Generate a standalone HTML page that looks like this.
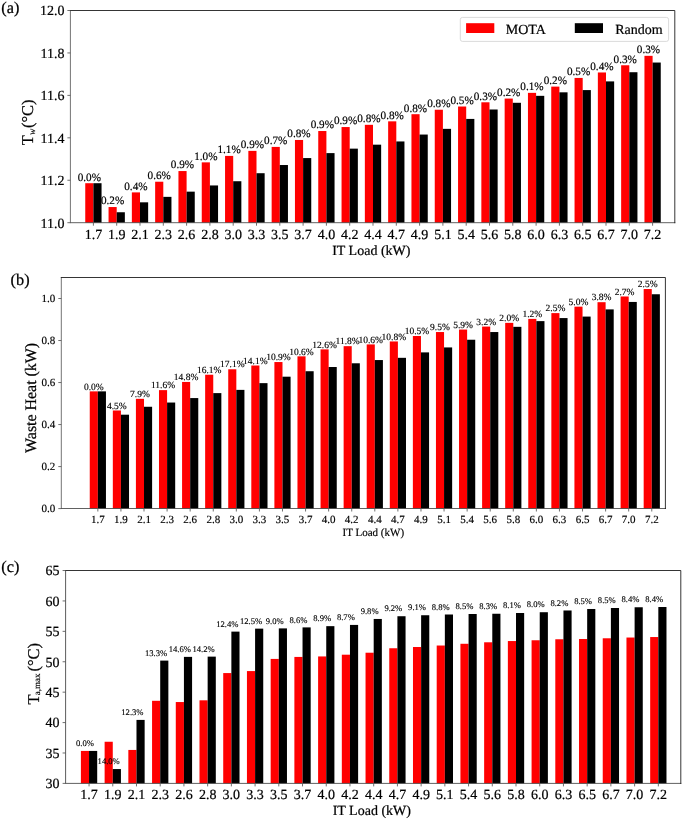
<!DOCTYPE html>
<html><head><meta charset="utf-8"><title>Figure</title>
<style>
html,body{margin:0;padding:0;background:#fff;}
svg{display:block;font-family:'Liberation Serif', serif;fill:#000;text-rendering:geometricPrecision;}
text{stroke:#000;stroke-width:0.015em;}
</style></head><body>
<svg width="685" height="820" viewBox="0 0 685 820">
<rect x="0" y="0" width="685" height="820" fill="#fff"/>
<rect x="85.25" y="183.21" width="8.15" height="39.49" fill="#ff0000"/>
<rect x="93.40" y="183.21" width="8.15" height="39.49" fill="#000"/>
<rect x="108.55" y="207.04" width="8.15" height="15.66" fill="#ff0000"/>
<rect x="116.70" y="212.25" width="8.15" height="10.45" fill="#000"/>
<rect x="131.85" y="192.39" width="8.15" height="30.31" fill="#ff0000"/>
<rect x="140.00" y="202.32" width="8.15" height="20.38" fill="#000"/>
<rect x="155.15" y="181.72" width="8.15" height="40.98" fill="#ff0000"/>
<rect x="163.30" y="196.86" width="8.15" height="25.84" fill="#000"/>
<rect x="178.45" y="171.05" width="8.15" height="51.65" fill="#ff0000"/>
<rect x="186.60" y="191.65" width="8.15" height="31.05" fill="#000"/>
<rect x="201.75" y="162.36" width="8.15" height="60.34" fill="#ff0000"/>
<rect x="209.90" y="185.45" width="8.15" height="37.25" fill="#000"/>
<rect x="225.05" y="155.91" width="8.15" height="66.79" fill="#ff0000"/>
<rect x="233.20" y="181.23" width="8.15" height="41.47" fill="#000"/>
<rect x="248.35" y="150.88" width="8.15" height="71.82" fill="#ff0000"/>
<rect x="256.50" y="173.21" width="8.15" height="49.49" fill="#000"/>
<rect x="271.65" y="146.91" width="8.15" height="75.79" fill="#ff0000"/>
<rect x="279.80" y="165.02" width="8.15" height="57.68" fill="#000"/>
<rect x="294.95" y="139.96" width="8.15" height="82.74" fill="#ff0000"/>
<rect x="303.10" y="158.07" width="8.15" height="64.63" fill="#000"/>
<rect x="318.25" y="131.02" width="8.15" height="91.68" fill="#ff0000"/>
<rect x="326.40" y="153.11" width="8.15" height="69.59" fill="#000"/>
<rect x="341.55" y="127.05" width="8.15" height="95.65" fill="#ff0000"/>
<rect x="349.70" y="148.64" width="8.15" height="74.06" fill="#000"/>
<rect x="364.85" y="124.82" width="8.15" height="97.88" fill="#ff0000"/>
<rect x="373.00" y="144.67" width="8.15" height="78.03" fill="#000"/>
<rect x="388.15" y="121.34" width="8.15" height="101.36" fill="#ff0000"/>
<rect x="396.30" y="141.45" width="8.15" height="81.25" fill="#000"/>
<rect x="411.45" y="114.20" width="8.15" height="108.50" fill="#ff0000"/>
<rect x="419.60" y="134.55" width="8.15" height="88.15" fill="#000"/>
<rect x="434.75" y="109.74" width="8.15" height="112.96" fill="#ff0000"/>
<rect x="442.90" y="128.85" width="8.15" height="93.85" fill="#000"/>
<rect x="458.05" y="106.51" width="8.15" height="116.19" fill="#ff0000"/>
<rect x="466.20" y="118.92" width="8.15" height="103.78" fill="#000"/>
<rect x="481.35" y="102.29" width="8.15" height="120.41" fill="#ff0000"/>
<rect x="489.50" y="109.49" width="8.15" height="113.21" fill="#000"/>
<rect x="504.65" y="98.57" width="8.15" height="124.13" fill="#ff0000"/>
<rect x="512.80" y="102.79" width="8.15" height="119.91" fill="#000"/>
<rect x="527.95" y="92.86" width="8.15" height="129.84" fill="#ff0000"/>
<rect x="536.10" y="95.84" width="8.15" height="126.86" fill="#000"/>
<rect x="551.25" y="86.61" width="8.15" height="136.09" fill="#ff0000"/>
<rect x="559.40" y="92.32" width="8.15" height="130.38" fill="#000"/>
<rect x="574.55" y="77.93" width="8.15" height="144.77" fill="#ff0000"/>
<rect x="582.70" y="90.09" width="8.15" height="132.61" fill="#000"/>
<rect x="597.85" y="72.47" width="8.15" height="150.23" fill="#ff0000"/>
<rect x="606.00" y="81.40" width="8.15" height="141.30" fill="#000"/>
<rect x="621.15" y="65.27" width="8.15" height="157.43" fill="#ff0000"/>
<rect x="629.30" y="72.22" width="8.15" height="150.48" fill="#000"/>
<rect x="644.45" y="55.84" width="8.15" height="166.86" fill="#ff0000"/>
<rect x="652.60" y="62.54" width="8.15" height="160.16" fill="#000"/>
<text x="89.33" y="180.61" font-size="11.2" text-anchor="middle">0.0%</text>
<text x="112.62" y="204.44" font-size="11.2" text-anchor="middle">0.2%</text>
<text x="135.93" y="189.79" font-size="11.2" text-anchor="middle">0.4%</text>
<text x="159.23" y="179.12" font-size="11.2" text-anchor="middle">0.6%</text>
<text x="182.53" y="168.45" font-size="11.2" text-anchor="middle">0.9%</text>
<text x="205.83" y="159.76" font-size="11.2" text-anchor="middle">1.0%</text>
<text x="229.13" y="153.31" font-size="11.2" text-anchor="middle">1.1%</text>
<text x="252.43" y="148.28" font-size="11.2" text-anchor="middle">0.9%</text>
<text x="275.73" y="144.31" font-size="11.2" text-anchor="middle">0.7%</text>
<text x="299.03" y="137.36" font-size="11.2" text-anchor="middle">0.8%</text>
<text x="322.32" y="128.42" font-size="11.2" text-anchor="middle">0.9%</text>
<text x="345.63" y="124.45" font-size="11.2" text-anchor="middle">0.9%</text>
<text x="368.93" y="122.22" font-size="11.2" text-anchor="middle">0.8%</text>
<text x="392.23" y="118.74" font-size="11.2" text-anchor="middle">0.8%</text>
<text x="415.53" y="111.60" font-size="11.2" text-anchor="middle">0.8%</text>
<text x="438.82" y="107.14" font-size="11.2" text-anchor="middle">0.8%</text>
<text x="462.13" y="103.91" font-size="11.2" text-anchor="middle">0.5%</text>
<text x="485.43" y="99.69" font-size="11.2" text-anchor="middle">0.3%</text>
<text x="508.73" y="95.97" font-size="11.2" text-anchor="middle">0.2%</text>
<text x="532.02" y="90.26" font-size="11.2" text-anchor="middle">0.1%</text>
<text x="555.32" y="84.01" font-size="11.2" text-anchor="middle">0.2%</text>
<text x="578.62" y="75.33" font-size="11.2" text-anchor="middle">0.5%</text>
<text x="601.92" y="69.87" font-size="11.2" text-anchor="middle">0.4%</text>
<text x="625.22" y="62.67" font-size="11.2" text-anchor="middle">0.3%</text>
<text x="648.52" y="53.24" font-size="11.2" text-anchor="middle">0.3%</text>
<path d="M70.40 222.70V10.50" fill="none" stroke="#747474" stroke-width="1.0" stroke-linecap="butt"/>
<path d="M70.40 222.70H674.80" fill="none" stroke="#444" stroke-width="0.85" stroke-linecap="square"/>
<path d="M70.40 10.50H674.80V222.70" fill="none" stroke="#111" stroke-width="0.85" stroke-linecap="square"/>
<line x1="93.40" y1="222.70" x2="93.40" y2="225.70" stroke="#555" stroke-width="0.85"/>
<text x="93.40" y="238.50" font-size="14" text-anchor="middle">1.7</text>
<line x1="116.70" y1="222.70" x2="116.70" y2="225.70" stroke="#555" stroke-width="0.85"/>
<text x="116.70" y="238.50" font-size="14" text-anchor="middle">1.9</text>
<line x1="140.00" y1="222.70" x2="140.00" y2="225.70" stroke="#555" stroke-width="0.85"/>
<text x="140.00" y="238.50" font-size="14" text-anchor="middle">2.1</text>
<line x1="163.30" y1="222.70" x2="163.30" y2="225.70" stroke="#555" stroke-width="0.85"/>
<text x="163.30" y="238.50" font-size="14" text-anchor="middle">2.3</text>
<line x1="186.60" y1="222.70" x2="186.60" y2="225.70" stroke="#555" stroke-width="0.85"/>
<text x="186.60" y="238.50" font-size="14" text-anchor="middle">2.6</text>
<line x1="209.90" y1="222.70" x2="209.90" y2="225.70" stroke="#555" stroke-width="0.85"/>
<text x="209.90" y="238.50" font-size="14" text-anchor="middle">2.8</text>
<line x1="233.20" y1="222.70" x2="233.20" y2="225.70" stroke="#555" stroke-width="0.85"/>
<text x="233.20" y="238.50" font-size="14" text-anchor="middle">3.0</text>
<line x1="256.50" y1="222.70" x2="256.50" y2="225.70" stroke="#555" stroke-width="0.85"/>
<text x="256.50" y="238.50" font-size="14" text-anchor="middle">3.3</text>
<line x1="279.80" y1="222.70" x2="279.80" y2="225.70" stroke="#555" stroke-width="0.85"/>
<text x="279.80" y="238.50" font-size="14" text-anchor="middle">3.5</text>
<line x1="303.10" y1="222.70" x2="303.10" y2="225.70" stroke="#555" stroke-width="0.85"/>
<text x="303.10" y="238.50" font-size="14" text-anchor="middle">3.7</text>
<line x1="326.40" y1="222.70" x2="326.40" y2="225.70" stroke="#555" stroke-width="0.85"/>
<text x="326.40" y="238.50" font-size="14" text-anchor="middle">4.0</text>
<line x1="349.70" y1="222.70" x2="349.70" y2="225.70" stroke="#555" stroke-width="0.85"/>
<text x="349.70" y="238.50" font-size="14" text-anchor="middle">4.2</text>
<line x1="373.00" y1="222.70" x2="373.00" y2="225.70" stroke="#555" stroke-width="0.85"/>
<text x="373.00" y="238.50" font-size="14" text-anchor="middle">4.4</text>
<line x1="396.30" y1="222.70" x2="396.30" y2="225.70" stroke="#555" stroke-width="0.85"/>
<text x="396.30" y="238.50" font-size="14" text-anchor="middle">4.7</text>
<line x1="419.60" y1="222.70" x2="419.60" y2="225.70" stroke="#555" stroke-width="0.85"/>
<text x="419.60" y="238.50" font-size="14" text-anchor="middle">4.9</text>
<line x1="442.90" y1="222.70" x2="442.90" y2="225.70" stroke="#555" stroke-width="0.85"/>
<text x="442.90" y="238.50" font-size="14" text-anchor="middle">5.1</text>
<line x1="466.20" y1="222.70" x2="466.20" y2="225.70" stroke="#555" stroke-width="0.85"/>
<text x="466.20" y="238.50" font-size="14" text-anchor="middle">5.4</text>
<line x1="489.50" y1="222.70" x2="489.50" y2="225.70" stroke="#555" stroke-width="0.85"/>
<text x="489.50" y="238.50" font-size="14" text-anchor="middle">5.6</text>
<line x1="512.80" y1="222.70" x2="512.80" y2="225.70" stroke="#555" stroke-width="0.85"/>
<text x="512.80" y="238.50" font-size="14" text-anchor="middle">5.8</text>
<line x1="536.10" y1="222.70" x2="536.10" y2="225.70" stroke="#555" stroke-width="0.85"/>
<text x="536.10" y="238.50" font-size="14" text-anchor="middle">6.0</text>
<line x1="559.40" y1="222.70" x2="559.40" y2="225.70" stroke="#555" stroke-width="0.85"/>
<text x="559.40" y="238.50" font-size="14" text-anchor="middle">6.3</text>
<line x1="582.70" y1="222.70" x2="582.70" y2="225.70" stroke="#555" stroke-width="0.85"/>
<text x="582.70" y="238.50" font-size="14" text-anchor="middle">6.5</text>
<line x1="606.00" y1="222.70" x2="606.00" y2="225.70" stroke="#555" stroke-width="0.85"/>
<text x="606.00" y="238.50" font-size="14" text-anchor="middle">6.7</text>
<line x1="629.30" y1="222.70" x2="629.30" y2="225.70" stroke="#555" stroke-width="0.85"/>
<text x="629.30" y="238.50" font-size="14" text-anchor="middle">7.0</text>
<line x1="652.60" y1="222.70" x2="652.60" y2="225.70" stroke="#555" stroke-width="0.85"/>
<text x="652.60" y="238.50" font-size="14" text-anchor="middle">7.2</text>
<line x1="67.40" y1="222.70" x2="70.40" y2="222.70" stroke="#555" stroke-width="0.85"/>
<text x="64.60" y="227.60" font-size="14" text-anchor="end">11.0</text>
<line x1="67.40" y1="180.26" x2="70.40" y2="180.26" stroke="#555" stroke-width="0.85"/>
<text x="64.60" y="185.16" font-size="14" text-anchor="end">11.2</text>
<line x1="67.40" y1="137.82" x2="70.40" y2="137.82" stroke="#555" stroke-width="0.85"/>
<text x="64.60" y="142.72" font-size="14" text-anchor="end">11.4</text>
<line x1="67.40" y1="95.38" x2="70.40" y2="95.38" stroke="#555" stroke-width="0.85"/>
<text x="64.60" y="100.28" font-size="14" text-anchor="end">11.6</text>
<line x1="67.40" y1="52.94" x2="70.40" y2="52.94" stroke="#555" stroke-width="0.85"/>
<text x="64.60" y="57.84" font-size="14" text-anchor="end">11.8</text>
<line x1="67.40" y1="10.50" x2="70.40" y2="10.50" stroke="#555" stroke-width="0.85"/>
<text x="64.60" y="15.40" font-size="14" text-anchor="end">12.0</text>
<text x="371.30" y="254.60" font-size="14" text-anchor="middle">IT Load (kW)</text>
<g transform="translate(32.90,145.30) rotate(-90)" font-size="16.5"><text x="0" y="0">T</text><text x="10.3" y="2.1" font-size="9.5" font-style="italic">w</text><text x="45.9" y="0" text-anchor="end">(°C)</text></g>
<text x="1.30" y="13.00" font-size="16.3">(a)</text>
<rect x="89.75" y="391.37" width="8.10" height="117.13" fill="#ff0000"/>
<rect x="97.85" y="391.37" width="8.10" height="117.13" fill="#000"/>
<rect x="112.83" y="410.48" width="8.10" height="98.02" fill="#ff0000"/>
<rect x="120.93" y="414.70" width="8.10" height="93.80" fill="#000"/>
<rect x="135.91" y="398.82" width="8.10" height="109.68" fill="#ff0000"/>
<rect x="144.01" y="406.76" width="8.10" height="101.74" fill="#000"/>
<rect x="158.99" y="390.13" width="8.10" height="118.37" fill="#ff0000"/>
<rect x="167.09" y="402.54" width="8.10" height="105.96" fill="#000"/>
<rect x="182.07" y="381.94" width="8.10" height="126.56" fill="#ff0000"/>
<rect x="190.17" y="398.07" width="8.10" height="110.43" fill="#000"/>
<rect x="205.15" y="374.74" width="8.10" height="133.76" fill="#ff0000"/>
<rect x="213.25" y="393.11" width="8.10" height="115.39" fill="#000"/>
<rect x="228.23" y="369.28" width="8.10" height="139.22" fill="#ff0000"/>
<rect x="236.33" y="389.88" width="8.10" height="118.62" fill="#000"/>
<rect x="251.31" y="365.52" width="8.10" height="142.98" fill="#ff0000"/>
<rect x="259.41" y="383.14" width="8.10" height="125.36" fill="#000"/>
<rect x="274.39" y="362.04" width="8.10" height="146.46" fill="#ff0000"/>
<rect x="282.49" y="376.69" width="8.10" height="131.81" fill="#000"/>
<rect x="297.47" y="356.34" width="8.10" height="152.16" fill="#ff0000"/>
<rect x="305.57" y="371.23" width="8.10" height="137.27" fill="#000"/>
<rect x="320.55" y="349.39" width="8.10" height="159.11" fill="#ff0000"/>
<rect x="328.65" y="367.01" width="8.10" height="141.49" fill="#000"/>
<rect x="343.63" y="346.16" width="8.10" height="162.34" fill="#ff0000"/>
<rect x="351.73" y="363.28" width="8.10" height="145.22" fill="#000"/>
<rect x="366.71" y="344.42" width="8.10" height="164.08" fill="#ff0000"/>
<rect x="374.81" y="360.06" width="8.10" height="148.44" fill="#000"/>
<rect x="389.79" y="341.45" width="8.10" height="167.05" fill="#ff0000"/>
<rect x="397.89" y="357.82" width="8.10" height="150.68" fill="#000"/>
<rect x="412.87" y="336.01" width="8.10" height="172.49" fill="#ff0000"/>
<rect x="420.97" y="352.39" width="8.10" height="156.11" fill="#000"/>
<rect x="435.95" y="332.04" width="8.10" height="176.46" fill="#ff0000"/>
<rect x="444.05" y="347.43" width="8.10" height="161.07" fill="#000"/>
<rect x="459.03" y="329.56" width="8.10" height="178.94" fill="#ff0000"/>
<rect x="467.13" y="339.74" width="8.10" height="168.76" fill="#000"/>
<rect x="482.11" y="326.58" width="8.10" height="181.92" fill="#ff0000"/>
<rect x="490.21" y="332.04" width="8.10" height="176.46" fill="#000"/>
<rect x="505.19" y="322.86" width="8.10" height="185.64" fill="#ff0000"/>
<rect x="513.29" y="326.83" width="8.10" height="181.67" fill="#000"/>
<rect x="528.27" y="318.89" width="8.10" height="189.61" fill="#ff0000"/>
<rect x="536.37" y="321.12" width="8.10" height="187.38" fill="#000"/>
<rect x="551.35" y="313.11" width="8.10" height="195.39" fill="#ff0000"/>
<rect x="559.45" y="318.07" width="8.10" height="190.43" fill="#000"/>
<rect x="574.43" y="306.66" width="8.10" height="201.84" fill="#ff0000"/>
<rect x="582.53" y="316.58" width="8.10" height="191.92" fill="#000"/>
<rect x="597.51" y="302.19" width="8.10" height="206.31" fill="#ff0000"/>
<rect x="605.61" y="309.39" width="8.10" height="199.11" fill="#000"/>
<rect x="620.59" y="296.48" width="8.10" height="212.02" fill="#ff0000"/>
<rect x="628.69" y="301.94" width="8.10" height="206.56" fill="#000"/>
<rect x="643.67" y="289.04" width="8.10" height="219.46" fill="#ff0000"/>
<rect x="651.77" y="294.25" width="8.10" height="214.25" fill="#000"/>
<text x="93.80" y="389.57" font-size="9.5" text-anchor="middle">0.0%</text>
<text x="116.88" y="408.68" font-size="9.5" text-anchor="middle">4.5%</text>
<text x="139.96" y="397.02" font-size="9.5" text-anchor="middle">7.9%</text>
<text x="163.04" y="388.33" font-size="9.5" text-anchor="middle">11.6%</text>
<text x="186.12" y="380.14" font-size="9.5" text-anchor="middle">14.8%</text>
<text x="209.20" y="372.94" font-size="9.5" text-anchor="middle">16.1%</text>
<text x="232.28" y="367.48" font-size="9.5" text-anchor="middle">17.1%</text>
<text x="255.36" y="363.72" font-size="9.5" text-anchor="middle">14.1%</text>
<text x="278.44" y="360.24" font-size="9.5" text-anchor="middle">10.9%</text>
<text x="301.52" y="354.54" font-size="9.5" text-anchor="middle">10.6%</text>
<text x="324.60" y="347.59" font-size="9.5" text-anchor="middle">12.6%</text>
<text x="347.68" y="344.36" font-size="9.5" text-anchor="middle">11.8%</text>
<text x="370.76" y="342.62" font-size="9.5" text-anchor="middle">10.6%</text>
<text x="393.84" y="339.65" font-size="9.5" text-anchor="middle">10.8%</text>
<text x="416.92" y="334.21" font-size="9.5" text-anchor="middle">10.5%</text>
<text x="440.00" y="330.24" font-size="9.5" text-anchor="middle">9.5%</text>
<text x="463.08" y="327.76" font-size="9.5" text-anchor="middle">5.9%</text>
<text x="486.16" y="324.78" font-size="9.5" text-anchor="middle">3.2%</text>
<text x="509.24" y="321.06" font-size="9.5" text-anchor="middle">2.0%</text>
<text x="532.32" y="317.09" font-size="9.5" text-anchor="middle">1.2%</text>
<text x="555.40" y="311.31" font-size="9.5" text-anchor="middle">2.5%</text>
<text x="578.48" y="304.86" font-size="9.5" text-anchor="middle">5.0%</text>
<text x="601.56" y="300.39" font-size="9.5" text-anchor="middle">3.8%</text>
<text x="624.64" y="294.68" font-size="9.5" text-anchor="middle">2.7%</text>
<text x="647.72" y="287.24" font-size="9.5" text-anchor="middle">2.5%</text>
<path d="M61.30 508.50V277.50" fill="none" stroke="#747474" stroke-width="1.0" stroke-linecap="butt"/>
<path d="M61.30 508.50H665.40" fill="none" stroke="#444" stroke-width="0.85" stroke-linecap="square"/>
<path d="M61.30 277.50H665.40V508.50" fill="none" stroke="#111" stroke-width="0.85" stroke-linecap="square"/>
<line x1="97.85" y1="508.50" x2="97.85" y2="511.50" stroke="#555" stroke-width="0.85"/>
<text x="97.85" y="522.60" font-size="11" text-anchor="middle">1.7</text>
<line x1="120.93" y1="508.50" x2="120.93" y2="511.50" stroke="#555" stroke-width="0.85"/>
<text x="120.93" y="522.60" font-size="11" text-anchor="middle">1.9</text>
<line x1="144.01" y1="508.50" x2="144.01" y2="511.50" stroke="#555" stroke-width="0.85"/>
<text x="144.01" y="522.60" font-size="11" text-anchor="middle">2.1</text>
<line x1="167.09" y1="508.50" x2="167.09" y2="511.50" stroke="#555" stroke-width="0.85"/>
<text x="167.09" y="522.60" font-size="11" text-anchor="middle">2.3</text>
<line x1="190.17" y1="508.50" x2="190.17" y2="511.50" stroke="#555" stroke-width="0.85"/>
<text x="190.17" y="522.60" font-size="11" text-anchor="middle">2.6</text>
<line x1="213.25" y1="508.50" x2="213.25" y2="511.50" stroke="#555" stroke-width="0.85"/>
<text x="213.25" y="522.60" font-size="11" text-anchor="middle">2.8</text>
<line x1="236.33" y1="508.50" x2="236.33" y2="511.50" stroke="#555" stroke-width="0.85"/>
<text x="236.33" y="522.60" font-size="11" text-anchor="middle">3.0</text>
<line x1="259.41" y1="508.50" x2="259.41" y2="511.50" stroke="#555" stroke-width="0.85"/>
<text x="259.41" y="522.60" font-size="11" text-anchor="middle">3.3</text>
<line x1="282.49" y1="508.50" x2="282.49" y2="511.50" stroke="#555" stroke-width="0.85"/>
<text x="282.49" y="522.60" font-size="11" text-anchor="middle">3.5</text>
<line x1="305.57" y1="508.50" x2="305.57" y2="511.50" stroke="#555" stroke-width="0.85"/>
<text x="305.57" y="522.60" font-size="11" text-anchor="middle">3.7</text>
<line x1="328.65" y1="508.50" x2="328.65" y2="511.50" stroke="#555" stroke-width="0.85"/>
<text x="328.65" y="522.60" font-size="11" text-anchor="middle">4.0</text>
<line x1="351.73" y1="508.50" x2="351.73" y2="511.50" stroke="#555" stroke-width="0.85"/>
<text x="351.73" y="522.60" font-size="11" text-anchor="middle">4.2</text>
<line x1="374.81" y1="508.50" x2="374.81" y2="511.50" stroke="#555" stroke-width="0.85"/>
<text x="374.81" y="522.60" font-size="11" text-anchor="middle">4.4</text>
<line x1="397.89" y1="508.50" x2="397.89" y2="511.50" stroke="#555" stroke-width="0.85"/>
<text x="397.89" y="522.60" font-size="11" text-anchor="middle">4.7</text>
<line x1="420.97" y1="508.50" x2="420.97" y2="511.50" stroke="#555" stroke-width="0.85"/>
<text x="420.97" y="522.60" font-size="11" text-anchor="middle">4.9</text>
<line x1="444.05" y1="508.50" x2="444.05" y2="511.50" stroke="#555" stroke-width="0.85"/>
<text x="444.05" y="522.60" font-size="11" text-anchor="middle">5.1</text>
<line x1="467.13" y1="508.50" x2="467.13" y2="511.50" stroke="#555" stroke-width="0.85"/>
<text x="467.13" y="522.60" font-size="11" text-anchor="middle">5.4</text>
<line x1="490.21" y1="508.50" x2="490.21" y2="511.50" stroke="#555" stroke-width="0.85"/>
<text x="490.21" y="522.60" font-size="11" text-anchor="middle">5.6</text>
<line x1="513.29" y1="508.50" x2="513.29" y2="511.50" stroke="#555" stroke-width="0.85"/>
<text x="513.29" y="522.60" font-size="11" text-anchor="middle">5.8</text>
<line x1="536.37" y1="508.50" x2="536.37" y2="511.50" stroke="#555" stroke-width="0.85"/>
<text x="536.37" y="522.60" font-size="11" text-anchor="middle">6.0</text>
<line x1="559.45" y1="508.50" x2="559.45" y2="511.50" stroke="#555" stroke-width="0.85"/>
<text x="559.45" y="522.60" font-size="11" text-anchor="middle">6.3</text>
<line x1="582.53" y1="508.50" x2="582.53" y2="511.50" stroke="#555" stroke-width="0.85"/>
<text x="582.53" y="522.60" font-size="11" text-anchor="middle">6.5</text>
<line x1="605.61" y1="508.50" x2="605.61" y2="511.50" stroke="#555" stroke-width="0.85"/>
<text x="605.61" y="522.60" font-size="11" text-anchor="middle">6.7</text>
<line x1="628.69" y1="508.50" x2="628.69" y2="511.50" stroke="#555" stroke-width="0.85"/>
<text x="628.69" y="522.60" font-size="11" text-anchor="middle">7.0</text>
<line x1="651.77" y1="508.50" x2="651.77" y2="511.50" stroke="#555" stroke-width="0.85"/>
<text x="651.77" y="522.60" font-size="11" text-anchor="middle">7.2</text>
<line x1="58.30" y1="508.60" x2="61.30" y2="508.60" stroke="#555" stroke-width="0.85"/>
<text x="55.30" y="512.45" font-size="11" text-anchor="end">0.0</text>
<line x1="58.30" y1="466.58" x2="61.30" y2="466.58" stroke="#555" stroke-width="0.85"/>
<text x="55.30" y="470.43" font-size="11" text-anchor="end">0.2</text>
<line x1="58.30" y1="424.56" x2="61.30" y2="424.56" stroke="#555" stroke-width="0.85"/>
<text x="55.30" y="428.41" font-size="11" text-anchor="end">0.4</text>
<line x1="58.30" y1="382.54" x2="61.30" y2="382.54" stroke="#555" stroke-width="0.85"/>
<text x="55.30" y="386.39" font-size="11" text-anchor="end">0.6</text>
<line x1="58.30" y1="340.52" x2="61.30" y2="340.52" stroke="#555" stroke-width="0.85"/>
<text x="55.30" y="344.37" font-size="11" text-anchor="end">0.8</text>
<line x1="58.30" y1="298.50" x2="61.30" y2="298.50" stroke="#555" stroke-width="0.85"/>
<text x="55.30" y="302.35" font-size="11" text-anchor="end">1.0</text>
<text x="373.30" y="535.50" font-size="11" text-anchor="middle">IT Load (kW)</text>
<g transform="translate(36.30,452.90) rotate(-90)" font-size="16"><text x="0" y="0" textLength="110" lengthAdjust="spacing">Waste Heat (kW)</text></g>
<text x="10.60" y="285.10" font-size="16.3">(b)</text>
<rect x="80.90" y="750.93" width="8.15" height="32.47" fill="#ff0000"/>
<rect x="89.05" y="750.93" width="8.15" height="32.47" fill="#000"/>
<rect x="104.62" y="741.75" width="8.15" height="41.65" fill="#ff0000"/>
<rect x="112.77" y="769.05" width="8.15" height="14.35" fill="#000"/>
<rect x="128.34" y="749.94" width="8.15" height="33.46" fill="#ff0000"/>
<rect x="136.49" y="719.91" width="8.15" height="63.49" fill="#000"/>
<rect x="152.06" y="700.80" width="8.15" height="82.60" fill="#ff0000"/>
<rect x="160.21" y="660.60" width="8.15" height="122.80" fill="#000"/>
<rect x="175.78" y="702.04" width="8.15" height="81.36" fill="#ff0000"/>
<rect x="183.93" y="656.88" width="8.15" height="126.52" fill="#000"/>
<rect x="199.50" y="700.31" width="8.15" height="83.09" fill="#ff0000"/>
<rect x="207.65" y="656.63" width="8.15" height="126.77" fill="#000"/>
<rect x="223.22" y="673.07" width="8.15" height="110.33" fill="#ff0000"/>
<rect x="231.37" y="631.62" width="8.15" height="151.78" fill="#000"/>
<rect x="246.94" y="671.08" width="8.15" height="112.32" fill="#ff0000"/>
<rect x="255.09" y="628.64" width="8.15" height="154.76" fill="#000"/>
<rect x="270.66" y="658.92" width="8.15" height="124.48" fill="#ff0000"/>
<rect x="278.81" y="628.39" width="8.15" height="155.01" fill="#000"/>
<rect x="294.38" y="656.93" width="8.15" height="126.47" fill="#ff0000"/>
<rect x="302.53" y="627.40" width="8.15" height="156.00" fill="#000"/>
<rect x="318.10" y="656.44" width="8.15" height="126.96" fill="#ff0000"/>
<rect x="326.25" y="626.16" width="8.15" height="157.24" fill="#000"/>
<rect x="341.82" y="654.70" width="8.15" height="128.70" fill="#ff0000"/>
<rect x="349.97" y="624.92" width="8.15" height="158.48" fill="#000"/>
<rect x="365.54" y="652.72" width="8.15" height="130.68" fill="#ff0000"/>
<rect x="373.69" y="618.96" width="8.15" height="164.44" fill="#000"/>
<rect x="389.26" y="648.25" width="8.15" height="135.15" fill="#ff0000"/>
<rect x="397.41" y="616.23" width="8.15" height="167.17" fill="#000"/>
<rect x="412.98" y="647.01" width="8.15" height="136.39" fill="#ff0000"/>
<rect x="421.13" y="615.24" width="8.15" height="168.16" fill="#000"/>
<rect x="436.70" y="645.52" width="8.15" height="137.88" fill="#ff0000"/>
<rect x="444.85" y="614.50" width="8.15" height="168.90" fill="#000"/>
<rect x="460.42" y="643.78" width="8.15" height="139.62" fill="#ff0000"/>
<rect x="468.57" y="614.00" width="8.15" height="169.40" fill="#000"/>
<rect x="484.14" y="642.29" width="8.15" height="141.11" fill="#ff0000"/>
<rect x="492.29" y="613.75" width="8.15" height="169.65" fill="#000"/>
<rect x="507.86" y="641.05" width="8.15" height="142.35" fill="#ff0000"/>
<rect x="516.01" y="613.01" width="8.15" height="170.39" fill="#000"/>
<rect x="531.58" y="640.26" width="8.15" height="143.14" fill="#ff0000"/>
<rect x="539.73" y="612.22" width="8.15" height="171.18" fill="#000"/>
<rect x="555.30" y="639.27" width="8.15" height="144.13" fill="#ff0000"/>
<rect x="563.45" y="610.48" width="8.15" height="172.92" fill="#000"/>
<rect x="579.02" y="639.02" width="8.15" height="144.38" fill="#ff0000"/>
<rect x="587.17" y="608.99" width="8.15" height="174.41" fill="#000"/>
<rect x="602.74" y="638.28" width="8.15" height="145.12" fill="#ff0000"/>
<rect x="610.89" y="608.00" width="8.15" height="175.40" fill="#000"/>
<rect x="626.46" y="637.53" width="8.15" height="145.87" fill="#ff0000"/>
<rect x="634.61" y="607.26" width="8.15" height="176.14" fill="#000"/>
<rect x="650.18" y="637.04" width="8.15" height="146.36" fill="#ff0000"/>
<rect x="658.33" y="607.01" width="8.15" height="176.39" fill="#000"/>
<text x="84.97" y="746.13" font-size="8.6" text-anchor="middle">0.0%</text>
<text x="108.69" y="764.25" font-size="8.6" text-anchor="middle">14.0%</text>
<text x="132.42" y="715.11" font-size="8.6" text-anchor="middle">12.3%</text>
<text x="156.13" y="655.80" font-size="8.6" text-anchor="middle">13.3%</text>
<text x="179.86" y="652.08" font-size="8.6" text-anchor="middle">14.6%</text>
<text x="203.57" y="651.83" font-size="8.6" text-anchor="middle">14.2%</text>
<text x="227.30" y="626.82" font-size="8.6" text-anchor="middle">12.4%</text>
<text x="251.01" y="623.84" font-size="8.6" text-anchor="middle">12.5%</text>
<text x="274.74" y="623.59" font-size="8.6" text-anchor="middle">9.0%</text>
<text x="298.45" y="622.60" font-size="8.6" text-anchor="middle">8.6%</text>
<text x="322.18" y="621.36" font-size="8.6" text-anchor="middle">8.9%</text>
<text x="345.89" y="620.12" font-size="8.6" text-anchor="middle">8.7%</text>
<text x="369.62" y="614.16" font-size="8.6" text-anchor="middle">9.8%</text>
<text x="393.34" y="611.43" font-size="8.6" text-anchor="middle">9.2%</text>
<text x="417.06" y="610.44" font-size="8.6" text-anchor="middle">9.1%</text>
<text x="440.77" y="609.70" font-size="8.6" text-anchor="middle">8.8%</text>
<text x="464.50" y="609.20" font-size="8.6" text-anchor="middle">8.5%</text>
<text x="488.22" y="608.95" font-size="8.6" text-anchor="middle">8.3%</text>
<text x="511.94" y="608.21" font-size="8.6" text-anchor="middle">8.1%</text>
<text x="535.65" y="607.42" font-size="8.6" text-anchor="middle">8.0%</text>
<text x="559.37" y="605.68" font-size="8.6" text-anchor="middle">8.2%</text>
<text x="583.09" y="604.19" font-size="8.6" text-anchor="middle">8.5%</text>
<text x="606.81" y="603.20" font-size="8.6" text-anchor="middle">8.5%</text>
<text x="630.53" y="602.46" font-size="8.6" text-anchor="middle">8.4%</text>
<text x="654.25" y="602.21" font-size="8.6" text-anchor="middle">8.4%</text>
<path d="M65.60 783.40V570.50" fill="none" stroke="#4a4a4a" stroke-width="0.9" stroke-linecap="butt"/>
<path d="M65.60 783.40H680.80" fill="none" stroke="#444" stroke-width="0.85" stroke-linecap="square"/>
<path d="M65.60 570.50H680.80V783.40" fill="none" stroke="#111" stroke-width="0.85" stroke-linecap="square"/>
<line x1="89.05" y1="783.40" x2="89.05" y2="786.40" stroke="#555" stroke-width="0.85"/>
<text x="89.05" y="798.80" font-size="14" text-anchor="middle">1.7</text>
<line x1="112.77" y1="783.40" x2="112.77" y2="786.40" stroke="#555" stroke-width="0.85"/>
<text x="112.77" y="798.80" font-size="14" text-anchor="middle">1.9</text>
<line x1="136.49" y1="783.40" x2="136.49" y2="786.40" stroke="#555" stroke-width="0.85"/>
<text x="136.49" y="798.80" font-size="14" text-anchor="middle">2.1</text>
<line x1="160.21" y1="783.40" x2="160.21" y2="786.40" stroke="#555" stroke-width="0.85"/>
<text x="160.21" y="798.80" font-size="14" text-anchor="middle">2.3</text>
<line x1="183.93" y1="783.40" x2="183.93" y2="786.40" stroke="#555" stroke-width="0.85"/>
<text x="183.93" y="798.80" font-size="14" text-anchor="middle">2.6</text>
<line x1="207.65" y1="783.40" x2="207.65" y2="786.40" stroke="#555" stroke-width="0.85"/>
<text x="207.65" y="798.80" font-size="14" text-anchor="middle">2.8</text>
<line x1="231.37" y1="783.40" x2="231.37" y2="786.40" stroke="#555" stroke-width="0.85"/>
<text x="231.37" y="798.80" font-size="14" text-anchor="middle">3.0</text>
<line x1="255.09" y1="783.40" x2="255.09" y2="786.40" stroke="#555" stroke-width="0.85"/>
<text x="255.09" y="798.80" font-size="14" text-anchor="middle">3.3</text>
<line x1="278.81" y1="783.40" x2="278.81" y2="786.40" stroke="#555" stroke-width="0.85"/>
<text x="278.81" y="798.80" font-size="14" text-anchor="middle">3.5</text>
<line x1="302.53" y1="783.40" x2="302.53" y2="786.40" stroke="#555" stroke-width="0.85"/>
<text x="302.53" y="798.80" font-size="14" text-anchor="middle">3.7</text>
<line x1="326.25" y1="783.40" x2="326.25" y2="786.40" stroke="#555" stroke-width="0.85"/>
<text x="326.25" y="798.80" font-size="14" text-anchor="middle">4.0</text>
<line x1="349.97" y1="783.40" x2="349.97" y2="786.40" stroke="#555" stroke-width="0.85"/>
<text x="349.97" y="798.80" font-size="14" text-anchor="middle">4.2</text>
<line x1="373.69" y1="783.40" x2="373.69" y2="786.40" stroke="#555" stroke-width="0.85"/>
<text x="373.69" y="798.80" font-size="14" text-anchor="middle">4.4</text>
<line x1="397.41" y1="783.40" x2="397.41" y2="786.40" stroke="#555" stroke-width="0.85"/>
<text x="397.41" y="798.80" font-size="14" text-anchor="middle">4.7</text>
<line x1="421.13" y1="783.40" x2="421.13" y2="786.40" stroke="#555" stroke-width="0.85"/>
<text x="421.13" y="798.80" font-size="14" text-anchor="middle">4.9</text>
<line x1="444.85" y1="783.40" x2="444.85" y2="786.40" stroke="#555" stroke-width="0.85"/>
<text x="444.85" y="798.80" font-size="14" text-anchor="middle">5.1</text>
<line x1="468.57" y1="783.40" x2="468.57" y2="786.40" stroke="#555" stroke-width="0.85"/>
<text x="468.57" y="798.80" font-size="14" text-anchor="middle">5.4</text>
<line x1="492.29" y1="783.40" x2="492.29" y2="786.40" stroke="#555" stroke-width="0.85"/>
<text x="492.29" y="798.80" font-size="14" text-anchor="middle">5.6</text>
<line x1="516.01" y1="783.40" x2="516.01" y2="786.40" stroke="#555" stroke-width="0.85"/>
<text x="516.01" y="798.80" font-size="14" text-anchor="middle">5.8</text>
<line x1="539.73" y1="783.40" x2="539.73" y2="786.40" stroke="#555" stroke-width="0.85"/>
<text x="539.73" y="798.80" font-size="14" text-anchor="middle">6.0</text>
<line x1="563.45" y1="783.40" x2="563.45" y2="786.40" stroke="#555" stroke-width="0.85"/>
<text x="563.45" y="798.80" font-size="14" text-anchor="middle">6.3</text>
<line x1="587.17" y1="783.40" x2="587.17" y2="786.40" stroke="#555" stroke-width="0.85"/>
<text x="587.17" y="798.80" font-size="14" text-anchor="middle">6.5</text>
<line x1="610.89" y1="783.40" x2="610.89" y2="786.40" stroke="#555" stroke-width="0.85"/>
<text x="610.89" y="798.80" font-size="14" text-anchor="middle">6.7</text>
<line x1="634.61" y1="783.40" x2="634.61" y2="786.40" stroke="#555" stroke-width="0.85"/>
<text x="634.61" y="798.80" font-size="14" text-anchor="middle">7.0</text>
<line x1="658.33" y1="783.40" x2="658.33" y2="786.40" stroke="#555" stroke-width="0.85"/>
<text x="658.33" y="798.80" font-size="14" text-anchor="middle">7.2</text>
<line x1="62.60" y1="783.40" x2="65.60" y2="783.40" stroke="#555" stroke-width="0.85"/>
<text x="59.50" y="788.30" font-size="14" text-anchor="end">30</text>
<line x1="62.60" y1="752.99" x2="65.60" y2="752.99" stroke="#555" stroke-width="0.85"/>
<text x="59.50" y="757.89" font-size="14" text-anchor="end">35</text>
<line x1="62.60" y1="722.58" x2="65.60" y2="722.58" stroke="#555" stroke-width="0.85"/>
<text x="59.50" y="727.48" font-size="14" text-anchor="end">40</text>
<line x1="62.60" y1="692.17" x2="65.60" y2="692.17" stroke="#555" stroke-width="0.85"/>
<text x="59.50" y="697.07" font-size="14" text-anchor="end">45</text>
<line x1="62.60" y1="661.76" x2="65.60" y2="661.76" stroke="#555" stroke-width="0.85"/>
<text x="59.50" y="666.66" font-size="14" text-anchor="end">50</text>
<line x1="62.60" y1="631.35" x2="65.60" y2="631.35" stroke="#555" stroke-width="0.85"/>
<text x="59.50" y="636.25" font-size="14" text-anchor="end">55</text>
<line x1="62.60" y1="600.94" x2="65.60" y2="600.94" stroke="#555" stroke-width="0.85"/>
<text x="59.50" y="605.84" font-size="14" text-anchor="end">60</text>
<line x1="62.60" y1="570.53" x2="65.60" y2="570.53" stroke="#555" stroke-width="0.85"/>
<text x="59.50" y="575.43" font-size="14" text-anchor="end">65</text>
<text x="371.80" y="814.60" font-size="14" text-anchor="middle">IT Load (kW)</text>
<g transform="translate(38.50,704.50) rotate(-90)" font-size="16.5"><text x="0" y="0">T</text><text x="9.2" y="1.7" font-size="9">a,max</text><text x="61.5" y="0" text-anchor="end">(°C)</text></g>
<text x="1.30" y="571.80" font-size="16.3">(c)</text>
<rect x="460.3" y="17.4" width="208.3" height="24.0" rx="2.2" fill="#fff" stroke="#d0d0d0" stroke-width="0.8"/>
<rect x="466.1" y="23.2" width="28.2" height="9.8" fill="#ff0000"/>
<text x="505.8" y="33.5" font-size="14">MOTA</text>
<rect x="574.8" y="23.2" width="28.2" height="9.8" fill="#000"/>
<text x="615.2" y="33.5" font-size="14">Random</text>
</svg>
</body></html>
